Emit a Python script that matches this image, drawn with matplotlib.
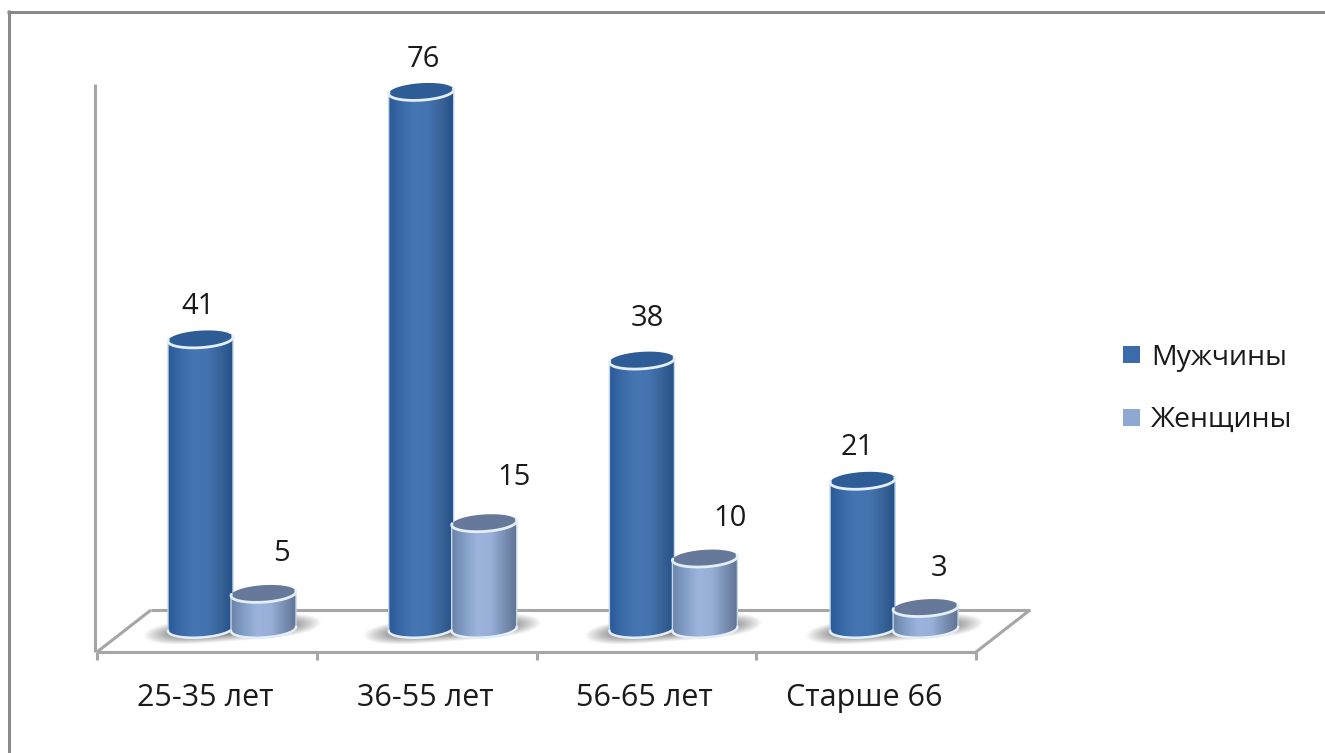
import numpy as np
import matplotlib
matplotlib.use('Agg')
import matplotlib.pyplot as plt
from matplotlib.colors import LinearSegmentedColormap
from matplotlib.lines import Line2D
from matplotlib.patches import PathPatch, Polygon, Rectangle
from matplotlib.path import Path

# Data
categories = ['25-35 лет', '36-55 лет', '56-65 лет', 'Старше 66']
men = [41, 76, 38, 21]
women = [5, 15, 10, 3]
series_names = ['Мужчины', 'Женщины']

W, H = 1325, 753
GREY = '#a6a6a6'
TEXT = '#1a1a1a'
RIM = '#e4eef7'

# Scale of the plot: one category and one unit of value, in pixels
CAT_PX = 219.75
BAR_STEP_PX = 220.7
UNIT_PX = 7.07
X0_PX = 97
Y0_PX = 629

# Label offsets from the top of a bar, in pixels (x, y)
men_label_off = [(-3, 33), (2, 32), (5, 42), (-5, 33)]
women_label_off = [(18, 40), (30, 45), (25, 40), (13, 39)]

plt.rcParams['font.family'] = ['Open Sans', 'DejaVu Sans']

fig = plt.figure(figsize=(W / 100, H / 100), dpi=100)
ax = fig.add_axes([0, 0, 1, 1])
ax.axis('off')

dx = 1 / CAT_PX
dy = 1 / UNIT_PX


def px_line(xs, ys):
    # xs are pixel offsets from the first tick, ys pixel offsets above zero
    ax.plot([x * dx for x in xs], [y * dy for y in ys], color=GREY, lw=2.2,
            solid_capstyle='butt', zorder=1)


def rim(xc, value, half_w, half_h, tilt, t):
    # Points on the tilted ellipse that closes a cylinder
    xs = xc + half_w * np.cos(t)
    ys = value + half_h * np.sin(t) + tilt * np.cos(t)
    return xs, ys


def cylinder(xc, value, half_w, half_h, tilt, cmap, top_color, z):
    # Body: horizontal gradient clipped to a shape with rounded bottom
    t = np.linspace(np.pi, 2 * np.pi, 50)
    bx, by = rim(xc, 0, half_w, half_h, tilt, t)
    verts = list(zip(bx, by)) + [(xc + half_w, value + tilt), (xc - half_w, value - tilt)]
    codes = [Path.MOVETO] + [Path.LINETO] * (len(verts) - 1) + [Path.CLOSEPOLY]
    verts.append(verts[0])
    grad = np.linspace(0, 1, 256).reshape(1, -1)
    im = ax.imshow(grad, cmap=cmap, aspect='auto', zorder=z,
                   extent=[xc - half_w, xc + half_w, -half_h - tilt, value + tilt])
    im.set_clip_path(PathPatch(Path(verts, codes), transform=ax.transData))
    ax.add_patch(PathPatch(Path(verts, codes), facecolor='none',
                           edgecolor='#c4d6e8', lw=1, zorder=z))
    ax.plot(bx, by, color=RIM, lw=1.8, zorder=z)

    # Top: dark ellipse with a bright front edge
    t = np.linspace(0, 2 * np.pi, 80)
    tx, ty = rim(xc, value, half_w, half_h, tilt, t)
    ax.add_patch(Polygon(np.column_stack([tx, ty]), closed=True,
                         facecolor=top_color, edgecolor='none', zorder=z))
    t = np.linspace(np.pi * 0.95, np.pi * 2.05, 50)
    fx, fy = rim(xc, value, half_w, half_h, tilt, t)
    ax.plot(fx, fy, color=RIM, lw=2, zorder=z, solid_capstyle='round')


def floor_shadow(x_left, x_right, y_mid):
    # Soft grey shadow under a pair of bars, rising slightly to the right
    xx, yy = np.meshgrid(np.linspace(-1, 1, 200), np.linspace(-1, 1, 60))
    d = np.sqrt(np.abs(xx) ** 4 + (1.9 * (yy + 0.28 * xx)) ** 2)
    a = np.clip(1.0 - d, 0, 0.6) / 0.6
    rgba = np.zeros(a.shape + (4,))
    rgba[..., :3] = 0.55
    rgba[..., 3] = a
    ax.imshow(rgba, aspect='auto', zorder=2,
              extent=[x_left, x_right, y_mid - 24 * dy, y_mid + 24 * dy])


men_cmap = LinearSegmentedColormap.from_list(
    'men', ['#2a5a96', '#3a6aa8', '#4676b2', '#4474b0', '#386498', '#24508a'])
women_cmap = LinearSegmentedColormap.from_list(
    'women', ['#6a82a8', '#84a0c8', '#9cb4dc', '#98b0d8', '#7a90b4', '#5f7292'])

# Outer frame of the picture
for xs, ys in [((8.5, 8.5), (10, H)), ((7, W), (11.5, 11.5))]:
    ax.add_line(Line2D([(x - X0_PX) * dx for x in xs],
                       [(Y0_PX - y) * dy for y in ys],
                       color='#8a8a8a', lw=2.2, zorder=1, solid_capstyle='butt'))

# Wall and floor of the 3D box
px_line([-2, -2], [-23, 545])
px_line([0, 879], [-23, -23])
px_line([0, 54], [-23, 19])
px_line([54, 933], [19, 19])
px_line([879, 933], [-23, 19])

# Ticks under the floor
for i in range(len(categories) + 1):
    px_line([i * CAT_PX] * 2, [-23, -31])

half_w = 32.5 * dx
half_h = 8.5 * dy
tilt = 2 * dy
for i, (m, f) in enumerate(zip(men, women)):
    xm = (103.5 + i * BAR_STEP_PX) * dx
    xf = (166.5 + i * BAR_STEP_PX) * dx
    floor_shadow(xm - 58 * dx, xf + 58 * dx, 0)
    cylinder(xm, m, half_w, half_h, tilt, men_cmap, '#2d5c96', 3)
    cylinder(xf, f, half_w, half_h, tilt, women_cmap, '#66799b', 4)
    ox, oy = men_label_off[i]
    ax.text(xm + ox * dx, m + oy * dy, str(m), ha='center', va='center',
            fontsize=21, color=TEXT, zorder=6)
    ox, oy = women_label_off[i]
    ax.text(xf + ox * dx, f + oy * dy, str(f), ha='center', va='center',
            fontsize=21, color=TEXT, zorder=6)
    ax.text(i + 0.5 - 1.5 * dx, -69 * dy, categories[i], ha='center', va='center',
            fontsize=22, color=TEXT)

# Legend
legend_colors = ['#3b6ba8', '#8fa8d2']
for name, color, y_px, text_y in zip(series_names, legend_colors, [354.5, 418], [358, 420]):
    x_px = 1123
    ax.add_patch(Rectangle(((x_px - X0_PX) * dx, (Y0_PX - y_px - 8) * dy),
                           17 * dx, 17 * dy, facecolor=color, edgecolor='none'))
    ax.text((x_px + 28 - X0_PX) * dx, (Y0_PX - text_y) * dy, name, ha='left',
            va='center', fontsize=20.5, color=TEXT)

# imshow resets the limits, so they are set last
ax.set_xlim(-X0_PX * dx, (W - X0_PX) * dx)
ax.set_ylim((Y0_PX - H) * dy, Y0_PX * dy)

fig.savefig('out.png', dpi=100)
plt.close(fig)
